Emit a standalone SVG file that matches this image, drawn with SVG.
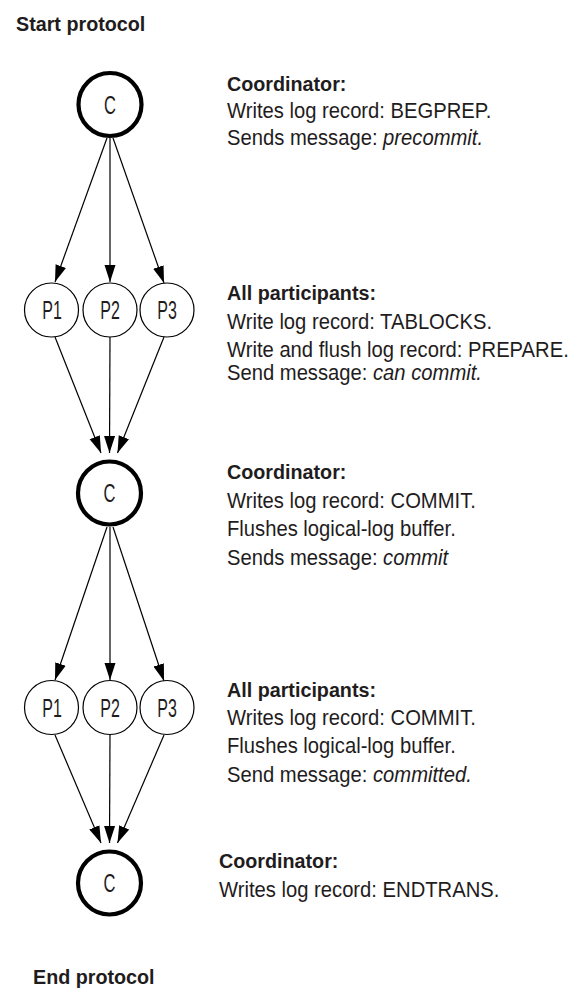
<svg xmlns="http://www.w3.org/2000/svg" width="574" height="990" viewBox="0 0 574 990">
<defs>
<style>
.t{font-family:"Liberation Sans",Arial,sans-serif;font-size:21.5px;fill:#1f1c1d}
.b{font-family:"Liberation Sans",Arial,sans-serif;font-size:21px;font-weight:bold;fill:#1f1c1d}
.i{font-style:italic}
.lbl{font-family:"Liberation Sans",Arial,sans-serif;font-size:25px;fill:#1f1c1d;text-anchor:middle}
.cn{fill:#fff;stroke:#000;stroke-width:4.2}
.pn{fill:#fff;stroke:#000;stroke-width:1.2}
.e{stroke:#000;stroke-width:1.2;fill:none;marker-end:url(#ah)}
</style>
<marker id="ah" markerWidth="18" markerHeight="12" refX="17" refY="6" orient="auto" markerUnits="userSpaceOnUse">
<path d="M0,0.5 L17,6 L0,11.5 Z" fill="#000"/>
</marker>
</defs>
<rect width="574" height="990" fill="#fff"/>

<g id="title-start" transform="translate(16,31) scale(0.94,1)"><text class="b" x="0" y="0">Start protocol</text></g>
<g id="title-end" transform="translate(33,984) scale(0.94,1)"><text class="b" x="0" y="0">End protocol</text></g>

<g id="connectors">
<line class="e" x1="107" y1="138" x2="55" y2="282"/>
<line class="e" x1="110" y1="138" x2="110" y2="282"/>
<line class="e" x1="113" y1="138" x2="164" y2="283"/>
<line class="e" x1="55" y1="337" x2="101" y2="453"/>
<line class="e" x1="110" y1="337" x2="109.5" y2="453"/>
<line class="e" x1="164" y1="337" x2="117.5" y2="453"/>
<line class="e" x1="107" y1="527" x2="55" y2="680"/>
<line class="e" x1="110" y1="527" x2="110" y2="680"/>
<line class="e" x1="113" y1="527" x2="164" y2="681"/>
<line class="e" x1="55" y1="735" x2="101" y2="843"/>
<line class="e" x1="110" y1="735" x2="109.5" y2="843"/>
<line class="e" x1="164" y1="735" x2="117.5" y2="843"/>
</g>

<g id="c1"><circle class="cn" cx="110" cy="104.5" r="31.5"/><text class="lbl" transform="translate(110,113.5) scale(0.66,1)">C</text></g>
<g id="p1a"><circle class="pn" cx="51.5" cy="310" r="27"/><text class="lbl" transform="translate(52,319) scale(0.64,1)">P1</text></g>
<g id="p2a"><circle class="pn" cx="110" cy="310" r="27"/><text class="lbl" transform="translate(110,319) scale(0.64,1)">P2</text></g>
<g id="p3a"><circle class="pn" cx="167" cy="310" r="27"/><text class="lbl" transform="translate(167,319) scale(0.64,1)">P3</text></g>
<g id="c2"><circle class="cn" cx="109.5" cy="493" r="31.5"/><text class="lbl" transform="translate(109.5,502) scale(0.66,1)">C</text></g>
<g id="p1b"><circle class="pn" cx="51.5" cy="707.5" r="27"/><text class="lbl" transform="translate(52,716.5) scale(0.64,1)">P1</text></g>
<g id="p2b"><circle class="pn" cx="110" cy="707.5" r="27"/><text class="lbl" transform="translate(110,716.5) scale(0.64,1)">P2</text></g>
<g id="p3b"><circle class="pn" cx="167" cy="707.5" r="27"/><text class="lbl" transform="translate(167,716.5) scale(0.64,1)">P3</text></g>
<g id="c3"><circle class="cn" cx="109.5" cy="883" r="31.5"/><text class="lbl" transform="translate(109.5,892) scale(0.66,1)">C</text></g>

<g id="note1" transform="translate(227,0) scale(0.94,1)">
<text class="b" x="0" y="91">Coordinator:</text>
<text class="t" x="0" y="118">Writes log record: BEGPREP.</text>
<text class="t" x="0" y="145">Sends message: <tspan class="i">precommit.</tspan></text>
</g>
<g id="note2" transform="translate(227,0) scale(0.94,1)">
<text class="b" x="0" y="300">All participants:</text>
<text class="t" x="0" y="329">Write log record: TABLOCKS.</text>
<text class="t" x="0" y="357">Write and flush log record: PREPARE.</text>
<text class="t" x="0" y="380.5">Send message: <tspan class="i">can commit.</tspan></text>
</g>
<g id="note3" transform="translate(227,0) scale(0.94,1)">
<text class="b" x="0" y="479.5">Coordinator:</text>
<text class="t" x="0" y="508">Writes log record: COMMIT.</text>
<text class="t" x="0" y="536.5">Flushes logical-log buffer.</text>
<text class="t" x="0" y="565">Sends message: <tspan class="i">commit</tspan></text>
</g>
<g id="note4" transform="translate(227,0) scale(0.94,1)">
<text class="b" x="0" y="697">All participants:</text>
<text class="t" x="0" y="725">Writes log record: COMMIT.</text>
<text class="t" x="0" y="753.5">Flushes logical-log buffer.</text>
<text class="t" x="0" y="782">Send message: <tspan class="i">committed.</tspan></text>
</g>
<g id="note5" transform="translate(219,0) scale(0.94,1)">
<text class="b" x="0" y="868.5">Coordinator:</text>
<text class="t" x="0" y="897">Writes log record: ENDTRANS.</text>
</g>
</svg>
